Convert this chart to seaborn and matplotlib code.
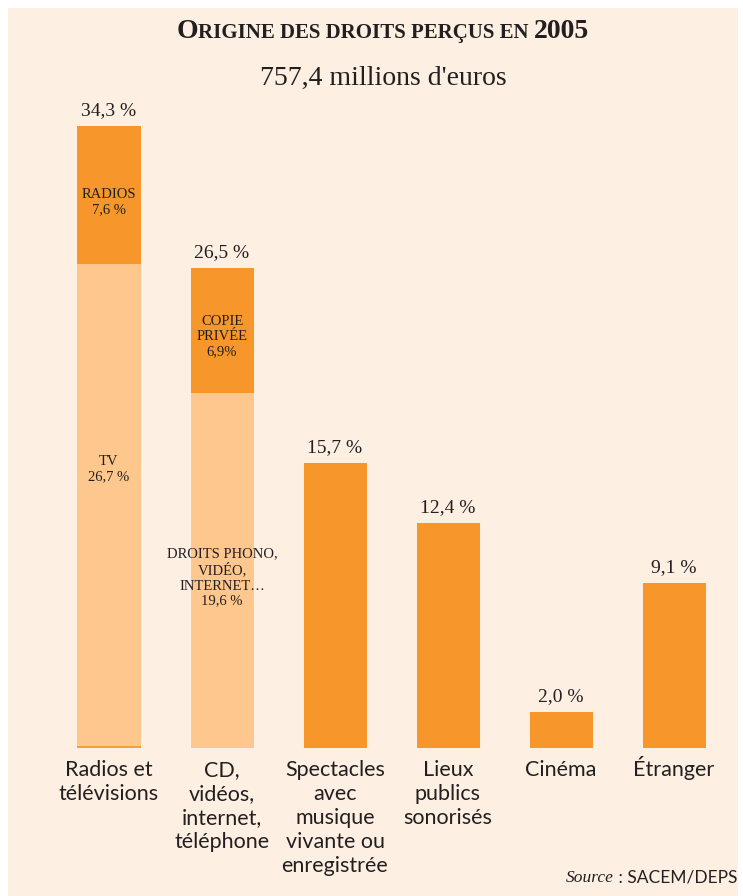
import matplotlib
matplotlib.use("Agg")
import matplotlib.pyplot as plt
import matplotlib.transforms as mtransforms
import seaborn as sns
import pandas as pd
from matplotlib.patches import Rectangle

# ---- data ----
categories = ["Radios et\ntélévisions", "CD,\nvidéos,\ninternet,\ntéléphone",
              "Spectacles\navec\nmusique\nvivante ou\nenregistrée",
              "Lieux\npublics\nsonorisés", "Cinéma", "Étranger"]
totals = [34.3, 26.5, 15.7, 12.4, 2.0, 9.1]
total_labels = ["34,3 %", "26,5 %", "15,7 %", "12,4 %", "2,0 %", "9,1 %"]
base_parts = [26.7, 19.6, 0, 0, 0, 0]
top_labels = ["RADIOS\n7,6 %", "COPIE\nPRIVÉE\n6,9%", "", "", "", ""]
base_labels = ["TV\n26,7 %", "DROITS PHONO,\nVIDÉO,\nINTERNET…\n19,6 %", "", "", "", ""]
title = "Origine des droits perçus en 2005"
subtitle = "757,4 millions d'euros"
source_text = ("Source", " : SACEM/DEPS")

DARK = "#F7962B"
LIGHT = "#FDC78D"
CREAM = "#FDEFE2"
TXT = "#231F20"

W, H = 743, 896
fig = plt.figure(figsize=(W / 100, H / 100), dpi=100, facecolor="white")
fig.patches.append(Rectangle((8 / W, 0), (738 - 8) / W, (896 - 8) / H,
                             transform=fig.transFigure, facecolor=CREAM,
                             edgecolor="none", zorder=-10))

px_per_unit = 18.13
ax_top_px, ax_bot_px = 100, 748
ax = fig.add_axes([0, (H - ax_bot_px) / H, 1, (ax_bot_px - ax_top_px) / H])
ax.set_facecolor("none")
ax.set_zorder(5)

df = pd.DataFrame({"cat": categories, "total": totals, "base": base_parts})
width = 63 / 113
sns.barplot(data=df, x="cat", y="total", color=DARK, saturation=1,
            width=width, ax=ax, zorder=2)
sns.barplot(data=df, x="cat", y="base", color=LIGHT, saturation=1,
            width=width, ax=ax, zorder=3)

ax.set_xlim(-109 / 113, (W - 109) / 113)
ax.set_ylim(0, (ax_bot_px - ax_top_px) / px_per_unit)
for s in ax.spines.values():
    s.set_visible(False)
ax.set_yticks([])
ax.set_xlabel("")
ax.set_ylabel("")
ax.tick_params(axis="x", length=0, labelbottom=False)

# category labels, one baseline per line (consistent baselines despite accents)
for i, cat in enumerate(categories):
    for k, line in enumerate(cat.split("\n")):
        off = mtransforms.offset_copy(ax.get_xaxis_transform(), fig=fig,
                                      x=0, y=-(28 + 24 * k), units="dots")
        ax.text(i, 0, line, transform=off, ha="center", va="baseline",
                fontsize=15.5, fontfamily="Lato", color=TXT, clip_on=False)

# thin baseline under first bar
ax.hlines(0.05, -width / 2, width / 2, color=DARK, lw=1.2, zorder=4)

# value labels
for i, (t, lbl) in enumerate(zip(totals, total_labels)):
    ax.annotate(lbl, (i, t), xytext=(0, 5), textcoords="offset points",
                ha="center", va="bottom", fontsize=14,
                fontfamily="Liberation Serif", color=TXT)

# in-bar labels
base_frac = [0.577, 0.48]
for i in range(len(categories)):
    if top_labels[i]:
        y = base_parts[i] + (totals[i] - base_parts[i]) * 0.45
        ax.text(i, y, top_labels[i], ha="center", va="center", fontsize=10.5,
                fontfamily="Liberation Serif", color=TXT, linespacing=1.2, zorder=5)
    if base_labels[i]:
        y = base_parts[i] * base_frac[i]
        ax.text(i, y, base_labels[i], ha="center", va="center", fontsize=10.5,
                fontfamily="Liberation Serif", color=TXT, linespacing=1.2, zorder=5)

# title in small caps
renderer = fig.canvas.get_renderer()
BIG, SMALL = 20, 15
pieces = [(title[0], BIG)]
rest = title[1:]
head, num = rest.rsplit(" ", 1)
pieces.append((head.upper() + " ", SMALL))
pieces.append((num, BIG))
texts = []
for s, fs in pieces:
    t = fig.text(0, 1 - 38 / H, s, fontsize=fs, fontweight="bold",
                 fontfamily="Liberation Serif", color=TXT, va="baseline", ha="left")
    texts.append(t)
widths = [t.get_window_extent(renderer).width for t in texts]
total_w = sum(widths)
x = 383 - total_w / 2
for t, wdt in zip(texts, widths):
    t.set_x(x / W)
    x += wdt

fig.text(383 / W, 1 - 78 / H, subtitle, ha="center", va="center", fontsize=20,
         fontfamily="Liberation Serif", color=TXT)

# source
t2 = fig.text(737 / W, 1 - 882 / H, source_text[1], ha="right", va="baseline",
              fontsize=12.5, fontfamily="Lato", color=TXT)
wb = t2.get_window_extent(renderer).width
fig.text((737 - wb) / W, 1 - 882 / H, source_text[0], ha="right", va="baseline",
         fontsize=12.5, fontfamily="Liberation Serif", style="italic", color=TXT)

fig.savefig("out.png", dpi=100, facecolor="white")
